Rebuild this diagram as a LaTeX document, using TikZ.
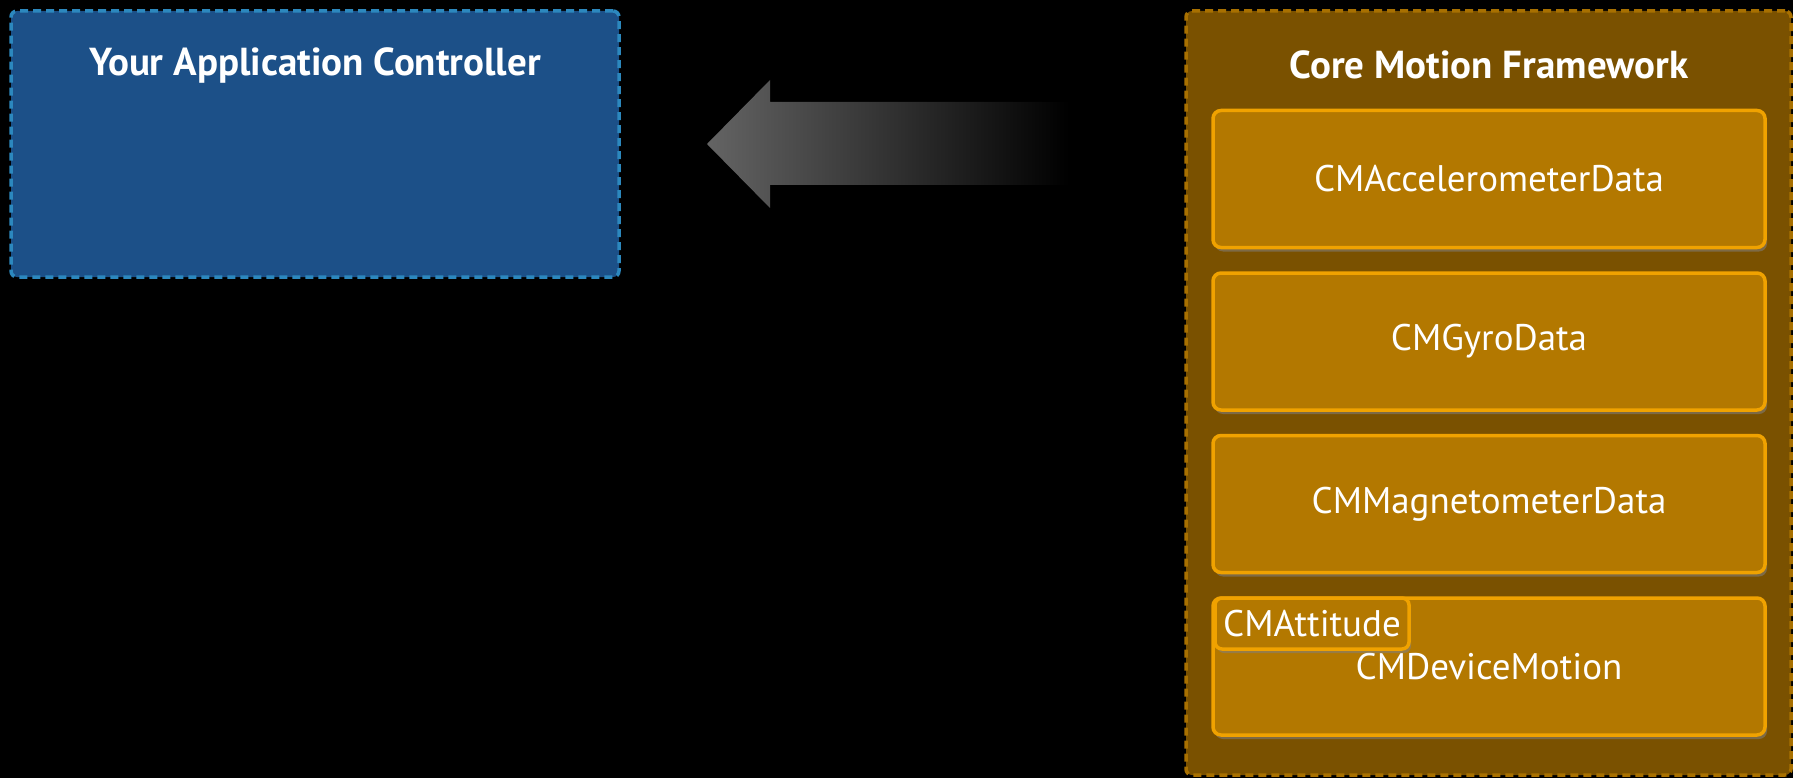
\documentclass[tikz,border=0pt]{standalone}
\usepackage{fontspec}
\setmainfont{PT Sans}
\usetikzlibrary{positioning,shadows}
\definecolor{appfill}{RGB}{28,80,136}
\definecolor{appline}{RGB}{44,136,190}
\definecolor{corefill}{RGB}{122,81,0}
\definecolor{coreline}{RGB}{168,112,0}
\definecolor{datafill}{RGB}{179,120,0}
\definecolor{dataline}{RGB}{240,162,0}
\definecolor{flowgray}{RGB}{100,100,100}

\begin{document}
\begin{tikzpicture}[x=1pt,y=-1pt,
  group/.style={rectangle,rounded corners=6pt,dash pattern=on 8pt off 5pt,line width=3.5pt,inner sep=0pt},
  databox/.style={rectangle,rounded corners=8pt,draw=dataline,fill=datafill,line width=3.5pt,minimum width=552pt,minimum height=137pt,text=white,font=\fontsize{37}{44}\selectfont,drop shadow={shadow xshift=2pt,shadow yshift=-4pt,opacity=0.55}},
  attbox/.style={rectangle,rounded corners=7pt,draw=dataline,fill=datafill,line width=3.5pt,minimum width=194pt,minimum height=51pt,inner sep=0pt,text=white,font=\fontsize{37}{44}\selectfont,drop shadow={shadow xshift=2pt,shadow yshift=-4pt,opacity=0.55}},
  title/.style={text=white,font=\fontsize{39}{46}\selectfont\bfseries}
]
\fill[black] (0,0) rectangle (1793,778);
\useasboundingbox (0,0) rectangle (1793,778);

% application side
\node[group,draw=appline,fill=appfill,minimum width=608pt,minimum height=266pt] (app) at (315,144) {};
\node[title] (appTitle) at (315,65) {Your Application Controller};

% data flowing back to the app
\shade[left color=flowgray,right color=black] (707,144) -- (770,80) -- (770,102) -- (1069,102) -- (1069,185) -- (770,185) -- (770,208) -- cycle;

% framework side
\node[group,draw=coreline,fill=corefill,minimum width=605pt,minimum height=764pt] (core) at (1488.5,393) {};
\node[title] (coreTitle) at (1489,65) {Core Motion Framework};
\node[databox] (accel) at (1489,179) {CMAccelerometerData};
\node[databox,below=22pt of accel] (gyro) {CMGyroData};
\node[databox,below=22pt of gyro] (magnet) {CMMagnetometerData};
\node[databox,below=22pt of magnet] (device) {CMDeviceMotion};
\node[attbox,below right=0pt and 2pt of device.north west] (attitude) {CMAttitude};
\end{tikzpicture}
\end{document}
